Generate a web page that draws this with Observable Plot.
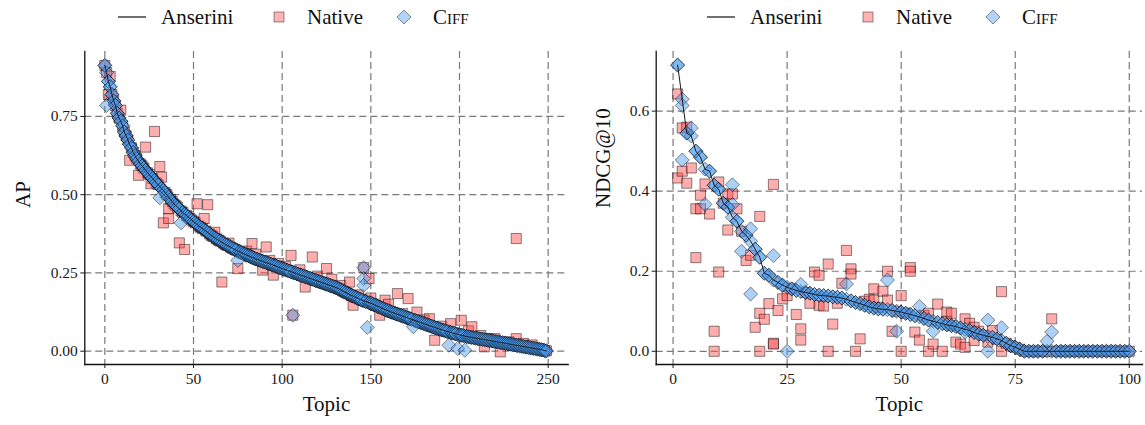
<!DOCTYPE html>
<html><head><meta charset="utf-8">
<script src="https://cdn.jsdelivr.net/npm/d3@7"></script>
<script src="https://cdn.jsdelivr.net/npm/@observablehq/plot@0.6"></script>
<style>
body{margin:0;background:#fff;font-family:"Liberation Serif",serif;}
#wrap{position:relative;width:1145px;height:425px;overflow:hidden;}
.col{position:absolute;top:0;}
.col svg{display:block;}
.col svg text{font-family:"Liberation Serif","DejaVu Serif",serif;}
</style></head><body>
<div id="wrap"><div class="col" id="left" style="left:0;width:575px"></div><div class="col" id="right" style="left:575px;width:570px"></div></div>
<script>
// ---------- DATA ----------
const seriesNames = ["Anserini", "Native", "Ciff"];

// Left panel: AP by topic rank (0..249), Anserini values
const apAnserini = [
0.913,0.89,0.862,0.845,0.82,0.80,0.785,0.76,0.745,0.735,
0.72,0.70,0.688,0.675,0.66,0.65,0.635,0.625,0.615,0.607,
0.598,0.592,0.585,0.578,0.57,0.565,0.558,0.552,0.545,0.538,
0.532,0.526,0.52,0.514,0.507,0.50,0.492,0.485,0.478,0.47,
0.465,0.46,0.455,0.448,0.443,0.438,0.434,0.429,0.424,0.419,
0.414,0.41,0.405,0.40,0.396,0.392,0.388,0.384,0.379,0.375,
0.37,0.366,0.362,0.359,0.355,0.352,0.348,0.345,0.341,0.338,
0.335,0.332,0.329,0.326,0.323,0.32,0.318,0.315,0.312,0.31,
0.307,0.305,0.302,0.30,0.298,0.295,0.293,0.291,0.289,0.287,
0.285,0.283,0.281,0.279,0.277,0.275,0.273,0.271,0.268,0.266,
0.264,0.262,0.26,0.258,0.256,0.254,0.252,0.25,0.248,0.246,
0.244,0.242,0.24,0.238,0.236,0.234,0.232,0.23,0.228,0.226,
0.224,0.222,0.22,0.218,0.216,0.214,0.212,0.21,0.208,0.206,
0.204,0.202,0.199,0.196,0.193,0.19,0.187,0.184,0.181,0.178,
0.176,0.173,0.171,0.168,0.166,0.163,0.161,0.159,0.157,0.155,
0.153,0.151,0.148,0.146,0.143,0.141,0.138,0.136,0.133,0.131,
0.129,0.126,0.124,0.122,0.12,0.118,0.116,0.114,0.112,0.11,
0.108,0.106,0.104,0.102,0.10,0.098,0.096,0.094,0.092,0.09,
0.088,0.086,0.084,0.082,0.08,0.078,0.076,0.074,0.072,0.07,
0.068,0.067,0.065,0.063,0.062,0.06,0.058,0.057,0.055,0.054,
0.052,0.051,0.05,0.048,0.047,0.046,0.045,0.044,0.043,0.042,
0.041,0.04,0.039,0.038,0.037,0.036,0.035,0.034,0.033,0.032,
0.031,0.03,0.029,0.028,0.027,0.026,0.025,0.024,0.023,0.022,
0.021,0.02,0.019,0.018,0.017,0.016,0.015,0.014,0.013,0.012,
0.011,0.01,0.009,0.008,0.007,0.006,0.005,0.004,0.002,0.001
];
// Left panel: topics where Ciff differs from Anserini [topic, AP]
const apCiffDiff = [[1,0.785],[31,0.49],[43,0.41],[75,0.29],[106,0.115],[146,0.267],[146,0.232],[146,0.21],
  [148,0.076],[174,0.078],[194,0.019],[199,0.009],[203,0.003]];
// Left panel: topics where Native differs from Anserini [topic, AP]
const apNativeDiff = [[2,0.82],[3,0.878],[9,0.77],[14,0.61],[19,0.562],[23,0.652],[26,0.535],[28,0.702],[31,0.59],
  [32,0.556],[33,0.41],[36,0.455],[36,0.424],[42,0.346],[45,0.325],[52,0.471],[56,0.424],[58,0.468],[62,0.38],
  [66,0.221],[70,0.345],[75,0.264],[80,0.32],[83,0.344],[85,0.31],[89,0.259],[91,0.333],[93,0.29],[95,0.243],
  [98,0.28],[102,0.27],[105,0.306],[106,0.115],[110,0.26],[113,0.205],[117,0.301],[120,0.24],[125,0.264],[128,0.23],
  [133,0.21],[138,0.221],[140,0.147],[143,0.18],[146,0.267],[149,0.232],[150,0.17],[155,0.115],[158,0.163],[160,0.15],
  [165,0.184],[168,0.12],[171,0.168],[176,0.125],[180,0.1],[183,0.104],[186,0.035],[190,0.08],[195,0.088],[201,0.099],
  [205,0.065],[207,0.078],[212,0.05],[214,0.014],[216,0.04],[220,0.04],[223,-0.002],[228,0.03],[232,0.36],[232,0.04],
  [236,0.025],[241,0.02]];

// Right panel: NDCG@10 by topic rank (1..100), Anserini values
const ndcgAnserini = [
0.715,0.63,0.545,0.538,0.50,0.485,0.455,0.45,0.415,0.405,
0.37,0.36,0.335,0.325,0.30,0.29,0.275,0.255,0.235,0.195,
0.19,0.178,0.172,0.165,0.16,0.156,0.152,0.149,0.147,0.145,
0.142,0.14,0.139,0.138,0.136,0.135,0.133,0.13,0.126,0.122,
0.119,0.115,0.111,0.108,0.106,0.105,0.104,0.102,0.10,0.098,
0.095,0.092,0.089,0.086,0.082,0.078,0.075,0.072,0.069,0.066,
0.064,0.062,0.058,0.055,0.052,0.047,0.043,0.04,0.037,0.035,
0.031,0.027,0.02,0.014,0.01,0.005,0,0,0,0,
0,0,0,0,0,0,0,0,0,0,
0,0,0,0,0,0,0,0,0,0
];
const ndcgCiffDiff = [[2,0.614],[2,0.478],[4,0.558],[7,0.367],[13,0.416],[13,0.367],[15,0.25],[17,0.306],[17,0.143],
  [22,0.239],[25,0],[28,0.167],[38,0.168],[47,0.178],[49,0.05],[54,0.112],[57,0.05],[64,0.048],[69,0.078],[69,0],
  [72,0.059],[82,0.025],[83,0.048]];
const ndcgNativeDiff = [[1,0.643],[1,0.433],[2,0.558],[2,0.45],[3,0.56],[3,0.42],[4,0.458],[5,0.356],[5,0.234],
  [6,0.356],[6,0.39],[7,0.418],[8,0.343],[9,0.05],[9,0],[10,0.423],[10,0.198],[12,0.393],[12,0.303],[13,0.393],
  [14,0.356],[16,0.227],[17,0.24],[18,0.06],[19,0.337],[19,0.095],[19,0],[20,0.08],[21,0.119],[22,0.417],[22,0.02],
  [22,0.018],[23,0.102],[24,0.131],[25,0.139],[27,0.092],[28,0.056],[28,0.028],[30,0.12],[31,0.198],[32,0.19],
  [32,0.115],[33,0.113],[34,0.218],[34,0],[35,0.068],[36,0.12],[37,0.17],[38,0.252],[39,0.206],[39,0.193],[40,0],
  [41,0.031],[42,0.125],[43,0.13],[44,0.156],[44,0.128],[45,0.11],[46,0.15],[47,0.2],[47,0.128],[48,0.05],[50,0.139],
  [50,0],[52,0.209],[52,0.2],[53,0.048],[54,0.028],[55,0.09],[56,0.095],[56,0],[57,0.018],[58,0.118],[59,0],
  [60,0.098],[60,0.075],[61,0.095],[61,0.065],[62,0.023],[63,0.018],[64,0.081],[64,0.01],[65,0.07],[66,0.06],
  [66,0.027],[67,0.05],[68,0.04],[69,0.023],[70,0.052],[71,0.03],[72,0.149],[72,0],[83,0.081]];

// axis ticks
const apXTicks = [0, 50, 100, 150, 200, 250];
const apYTicks = [0, 0.25, 0.5, 0.75];
const ndcgXTicks = [0, 25, 50, 75, 100];
const ndcgYTicks = [0, 0.2, 0.4, 0.6];

// ---------- BUILD ----------
function build(anserini, start, ciffDiff, nativeDiff) {
  const ans = anserini.map((v, i) => ({t: i + start, v}));
  const cSet = new Set(ciffDiff.map(d => d[0]));
  const nSet = new Set(nativeDiff.map(d => d[0]));
  const ciff = ans.filter(d => !cSet.has(d.t)).concat(ciffDiff.map(([t, v]) => ({t, v})));
  const native = ans.filter(d => !nSet.has(d.t)).concat(nativeDiff.map(([t, v]) => ({t, v})));
  return {ans, ciff, native};
}

const FONT = '"Liberation Serif", "DejaVu Serif", serif';
const redFill = "#ff4a4a", blueFill = "#4a98ea";

function legend(x0, w) {
  const ns = "http://www.w3.org/2000/svg";
  const svg = document.createElementNS(ns, "svg");
  svg.setAttribute("width", w); svg.setAttribute("height", 40);
  svg.style.fontFamily = FONT;
  const add = (tag, attrs, txt) => {
    const e = document.createElementNS(ns, tag);
    for (const k in attrs) e.setAttribute(k, attrs[k]);
    if (txt) e.textContent = txt;
    svg.appendChild(e); return e;
  };
  add("line", {x1: x0, x2: x0 + 28, y1: 17, y2: 17, stroke: "#222", "stroke-width": 1.3});
  add("text", {x: x0 + 43, y: 24, "font-size": 21, fill: "#111"}, seriesNames[0]);
  add("rect", {x: x0 + 156, y: 12, width: 10, height: 10, fill: redFill, "fill-opacity": 0.42, stroke: "#000", "stroke-opacity": 0.42});
  add("text", {x: x0 + 189, y: 24, "font-size": 21, fill: "#111"}, seriesNames[1]);
  add("path", {d: `M${x0+286},${10} l7,7 l-7,7 l-7,-7 z`, fill: blueFill, "fill-opacity": 0.42, stroke: "#000", "stroke-opacity": 0.42});
  add("text", {x: x0 + 315, y: 24, "font-size": 21, fill: "#111", "font-variant": "small-caps"}, seriesNames[2]);
  return svg;
}

function panel(o) {
  const {ans, ciff, native} = o.data;
  const grid = {stroke: "#7a7a7a", strokeOpacity: 1, strokeDasharray: "7,4", strokeWidth: 1.2};
  return Plot.plot({
    width: o.width, height: 385,
    marginLeft: o.ml, marginRight: o.mr, marginTop: 11, marginBottom: 61,
    style: {fontFamily: FONT, fontSize: "15px", color: "#1a1a1a", background: "white", overflow: "visible"},
    x: {domain: o.xdom},
    y: {domain: o.ydom},
    marks: [
      Plot.gridX(o.xticks, grid),
      Plot.gridY(o.yticks, grid),
      Plot.dot(native, {x: "t", y: "v", symbol: "square", r: 5.7, fill: redFill, fillOpacity: 0.45, stroke: "#000", strokeOpacity: 0.45, strokeWidth: 1}),
      Plot.dot(ans, {x: "t", y: "v", symbol: "diamond2", r: 6.3, fill: blueFill, fillOpacity: 0.45, stroke: "#000", strokeOpacity: 0.45, strokeWidth: 1}),
      Plot.dot(ciff, {x: "t", y: "v", symbol: "diamond2", r: 6.3, fill: blueFill, fillOpacity: 0.45, stroke: "#000", strokeOpacity: 0.45, strokeWidth: 1}),
      Plot.line(ans, {x: "t", y: "v", stroke: "#1a1a1a", strokeWidth: 1}),
      Plot.frame({anchor: "left", stroke: "#111", strokeWidth: 1.3}),
      Plot.frame({anchor: "bottom", stroke: "#111", strokeWidth: 1.3}),
      Plot.axisX(o.xticks, {tickSize: 4, tickPadding: 4, label: null, fontSize: 15.5, fontFamily: FONT}),
      Plot.axisY(o.yticks, {tickSize: 4, tickPadding: 3, label: null, tickFormat: o.yfmt, fontSize: 15.5, fontFamily: FONT}),
      Plot.text(["Topic"], {frameAnchor: "bottom", dy: 46, fontSize: 21, fill: "#111", fontFamily: FONT}),
      Plot.text([o.ylabel], {frameAnchor: "left", dx: o.ylabDx, rotate: -90, fontSize: 21, fill: "#111", fontFamily: FONT})
    ]
  });
}

const left = document.getElementById("left");
left.appendChild(legend(118, 575));
left.appendChild(panel({
  width: 575, ml: 84.3, mr: 7.3, xdom: [-11.3, 261.3], ydom: [-0.0425, 0.9575],
  xticks: apXTicks, yticks: apYTicks, yfmt: d3.format(".2f"), ylabel: "AP", ylabDx: -62,
  data: build(apAnserini, 0, apCiffDiff, apNativeDiff)
}));

const right = document.getElementById("right");
right.appendChild(legend(132, 570));
right.appendChild(panel({
  width: 570, ml: 80.7, mr: 3, xdom: [-3.7, 102.9], ydom: [-0.033, 0.749],
  xticks: ndcgXTicks, yticks: ndcgYTicks, yfmt: d3.format(".1f"), ylabel: "NDCG@10", ylabDx: -53,
  data: build(ndcgAnserini, 1, ndcgCiffDiff, ndcgNativeDiff)
}));
</script>
</body></html>
